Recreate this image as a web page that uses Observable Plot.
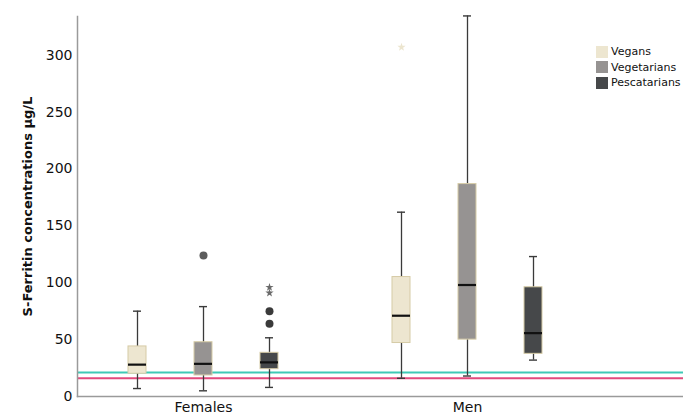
<!DOCTYPE html>
<html>
<head>
<meta charset="utf-8">
<script src="https://cdn.jsdelivr.net/npm/d3@7"></script>
<script src="https://cdn.jsdelivr.net/npm/@observablehq/plot@0.6"></script>
<style>
  html, body { margin: 0; padding: 0; background: #fff; }
  #wrap { position: relative; width: 683px; height: 416px; font-family: "DejaVu Sans", sans-serif; }
  #wrap svg g[aria-label="y-axis label"] text { font-weight: bold; font-size: 13px; }
  #legend { position: absolute; left: 596px; top: 44px; font-size: 11px; color: #111; line-height: 15.5px; }
  #legend div { display: flex; align-items: center; }
  #legend span.sw { display: inline-block; width: 12px; height: 12px; margin-right: 3px; }
</style>
</head>
<body>
<div id="wrap"></div>
<script>
const sexes = ["Females", "Men"];
const diets = ["Vegans", "Vegetarians", "Pescatarians"];
const dietColors = ["#ede6d0", "#969392", "#46484a"];
// order: Females (Vegans, Vegetarians, Pescatarians), Men (Vegans, Vegetarians, Pescatarians)
const whiskerLow  = [7, 5, 8, 16, 18, 32];
const q1          = [20, 18.5, 24, 47, 50, 37.5];
const median      = [28, 28.7, 30, 71, 98, 55.7];
const q3          = [44, 47.7, 38.4, 105, 186.7, 96];
const whiskerHigh = [75, 79, 51.6, 162, 334.5, 123];
// outliers (circles) and extremes (stars)
const outlierSex   = ["Females", "Females", "Females"];
const outlierDiet  = ["Vegetarians", "Pescatarians", "Pescatarians"];
const outlierValue = [124, 75, 64];
const extremeSex   = ["Females", "Females", "Men"];
const extremeDiet  = ["Pescatarians", "Pescatarians", "Vegans"];
const extremeValue = [96, 91, 307];
const refLines = [21, 16];
const refColors = ["#3fc9b6", "#e24a7c"];
const yTicks = [0, 50, 100, 150, 200, 250, 300];

const key = (s, d) => s + "|" + d;
const xDomain = [];
sexes.forEach((s, i) => { diets.forEach(d => xDomain.push(key(s, d))); if (i === 0) xDomain.push("gap"); });

const boxes = [];
sexes.forEach((s, i) => diets.forEach((d, j) => {
  const k = i * 3 + j;
  boxes.push({key: key(s, d), diet: d, lo: whiskerLow[k], q1: q1[k], med: median[k], q3: q3[k], hi: whiskerHigh[k]});
}));
const outliers = outlierValue.map((v, i) => ({key: key(outlierSex[i], outlierDiet[i]), diet: outlierDiet[i], value: v}));
const extremes = extremeValue.map((v, i) => ({key: key(extremeSex[i], extremeDiet[i]), diet: extremeDiet[i], value: v}));
const refs = refLines.map((v, i) => ({value: v, color: refColors[i]}));
const dietColor = d => dietColors[diets.indexOf(d)];

const chart = Plot.plot({
  width: 683,
  height: 416,
  marginLeft: 77,
  marginRight: 0,
  marginTop: 16,
  marginBottom: 20,
  style: {fontFamily: "DejaVu Sans, sans-serif", background: "#fff", color: "#111"},
  x: {type: "band", domain: xDomain, paddingInner: 0.73, paddingOuter: 1.42, align: 0.265, axis: null},
  y: {domain: [0, 334], axis: null},
  marks: [
    Plot.ruleY(refs, {y: "value", stroke: "color", strokeWidth: 2}),
    Plot.ruleX(boxes, {x: "key", y1: "lo", y2: "hi", stroke: "#3a3a3a", strokeWidth: 1.3}),
    Plot.tickY(boxes, {x: "key", y: "lo", stroke: "#3a3a3a", strokeWidth: 1.4, insetLeft: 5, insetRight: 5}),
    Plot.tickY(boxes, {x: "key", y: "hi", stroke: "#3a3a3a", strokeWidth: 1.4, insetLeft: 5, insetRight: 5}),
    Plot.barY(boxes, {x: "key", y1: "q1", y2: "q3", fill: d => dietColor(d.diet), stroke: "#d6cba6", strokeWidth: 1}),
    Plot.tickY(boxes, {x: "key", y: "med", stroke: "#111", strokeWidth: 2.2}),
    Plot.dot(outliers, {x: "key", y: "value", r: 4, fill: d => d.diet === "Vegetarians" ? "#5c5c5c" : "#3a3a3a", stroke: null}),
    Plot.dot(extremes, {x: "key", y: "value", r: 2.6, symbol: "star", fill: d => d.diet === "Vegans" ? "#ece5cf" : "#6a6a6a", stroke: null}),
    Plot.frame({anchor: "left", stroke: "#9a9a9a", strokeWidth: 1.5}),
    Plot.frame({anchor: "bottom", stroke: "#9a9a9a", strokeWidth: 1.5}),
    Plot.axisY({ticks: yTicks, tickSize: 0, tickPadding: 5, fontSize: 14, label: "S-Ferritin concentrations µg/L", labelAnchor: "center", labelArrow: "none", labelOffset: 55}),
    Plot.axisX({ticks: [key("Females", "Vegetarians"), key("Men", "Vegetarians")], tickFormat: d => d.split("|")[0], tickSize: 0, tickPadding: 6, fontSize: 14, label: null})
  ]
});
const wrap = document.getElementById("wrap");
wrap.appendChild(chart);

const legend = document.createElement("div");
legend.id = "legend";
diets.forEach((d, i) => {
  const row = document.createElement("div");
  const sw = document.createElement("span");
  sw.className = "sw";
  sw.style.background = dietColors[i];
  row.appendChild(sw);
  row.appendChild(document.createTextNode(d));
  legend.appendChild(row);
});
wrap.appendChild(legend);
</script>
</body>
</html>
